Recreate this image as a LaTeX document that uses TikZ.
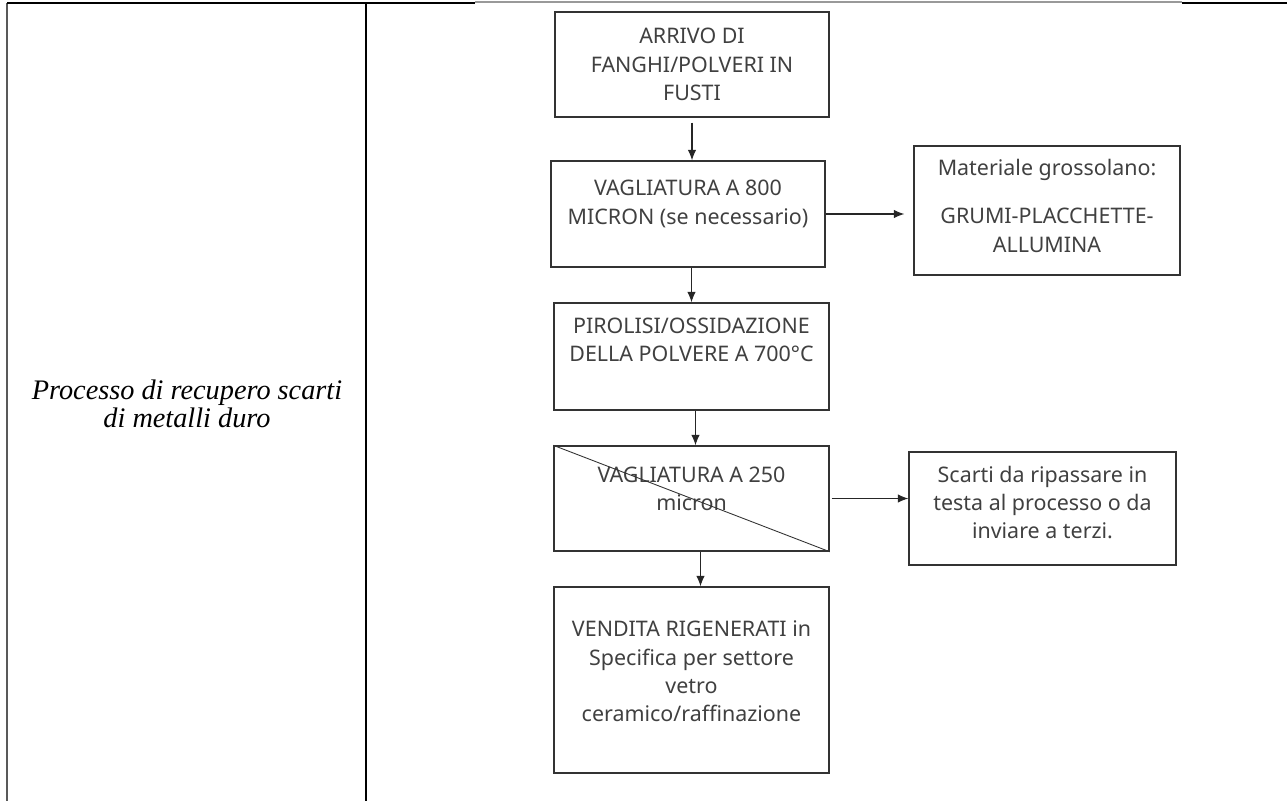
\documentclass[tikz,border=0pt]{standalone}
\usepackage{fontspec}
\setmainfont{Liberation Serif}
\newfontfamily\flowfont{Noto Sans}
\usetikzlibrary{positioning,arrows.meta}

\begin{document}
\begin{tikzpicture}[x=0.02cm,y=-0.02cm]
 \tikzset{arrow/.style={-{Latex[length=2.1mm,width=1.7mm]},line width=0.6pt,draw=black!85},
   stepbox/.style={draw=black!80,line width=0.8pt,inner sep=0pt},
   steptext/.style={align=center,text=black!75,inner sep=0pt,
     font=\flowfont\fontsize{12.2}{16.2}\selectfont}}
 \useasboundingbox (0,0) rectangle (1287,801);

 % table frame
 \draw[line width=1.3pt,black!65] (7,3) -- (7,801);
 \draw[line width=1pt] (366,3) -- (366,801);
 \draw[line width=1pt] (7,3) -- (475,3);
 \draw[line width=0.8pt,black!40] (475,2) -- (1182,2);
 \draw[line width=1.2pt] (1182,3) -- (1287,3);

 \node[align=center,inner sep=0pt,font=\itshape\fontsize{16.1}{15.9}\selectfont] (proc) at (187,404)
   {Processo di recupero scarti\\di metalli duro};

 % main column
 \node[stepbox,minimum width=5.48cm,minimum height=2.1cm] (b1) at (692,64.5) {};
 \node[steptext] (t1) at (692,64.5) {ARRIVO DI\\FANGHI/POLVERI IN\\FUSTI};
 \node[stepbox,minimum width=5.48cm,minimum height=2.12cm] (b2) at (688,214) {};
 \node[steptext] (t2) at (688,204) {VAGLIATURA A 800\\MICRON (se necessario)};
 \node[stepbox,minimum width=5.5cm,minimum height=2.14cm] (b3) at (691.5,356.5) {};
 \node[steptext] (t3) at (691.5,340) {PIROLISI/OSSIDAZIONE\\DELLA POLVERE A 700°C};
 \node[stepbox,minimum width=5.5cm,minimum height=2.1cm] (b4) at (691.5,498.5) {};
 \node[steptext] (t4) at (691.5,489) {VAGLIATURA A 250\\micron};
 \node[stepbox,minimum width=5.5cm,minimum height=3.72cm] (b5) at (691.5,680) {};
 \node[steptext] (t5) at (691.5,671.5)
   {VENDITA RIGENERATI in\\Specifica per settore\\vetro\\ceramico/raffinazione};

 % side boxes
 \node[stepbox,minimum width=5.32cm,minimum height=2.58cm] (r1) at (1047,210.5) {};
 \node[steptext] (s1) at (1047,205.5)
   {Materiale grossolano:\\[0.4cm]GRUMI-PLACCHETTE-\\ALLUMINA};
 \node[stepbox,minimum width=5.34cm,minimum height=2.26cm] (r2) at (1042.5,508.5) {};
 \node[steptext] (s2) at (1042.5,502.5)
   {Scarti da ripassare in\\testa al processo o da\\inviare a terzi.};

 \draw[line width=0.5pt,black!80] (b4.north west) -- (b4.south east);

 \draw[arrow,shorten <=0.1cm] (b1.south) -- (b1.south |- b2.north);
 \draw[arrow] (b2.south -| b3.north) -- (b3.north);
 \draw[arrow] ([xshift=0.08cm]b3.south) -- ([xshift=0.08cm]b4.north);
 \draw[arrow] ([xshift=0.18cm]b4.south) -- ([xshift=0.18cm]b4.south |- b5.north);
 \draw[arrow,shorten >=0.18cm] (b2.east) -- (b2.east -| r1.west);
 \draw[arrow,shorten <=0.04cm] (b4.east) -- (b4.east -| r2.west);
\end{tikzpicture}
\end{document}
